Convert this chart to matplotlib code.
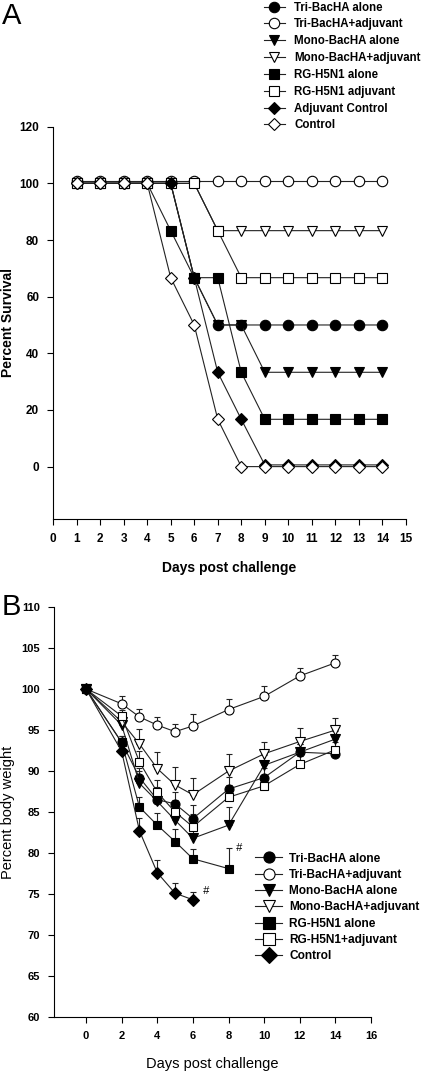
import matplotlib as mpl
mpl.use('Agg')
import matplotlib.pyplot as plt
from matplotlib.lines import Line2D

plt.rcParams['font.family'] = ['Liberation Sans', 'DejaVu Sans']

# ---- panel A: survival ----
days_a = [1, 2, 3, 4, 5, 6, 7, 8, 9, 10, 11, 12, 13, 14]
tri_alone_a = [100, 100, 100, 100, 100, 66.7, 50, 50, 50, 50, 50, 50, 50, 50]
tri_adj_a = [101, 101, 101, 101, 101, 101, 101, 101, 101, 101, 101, 101, 101, 101]
mono_alone_a = [100, 100, 100, 100, 100, 66.7, 50, 50, 33.3, 33.3, 33.3, 33.3, 33.3, 33.3]
mono_adj_a = [100, 100, 100, 100, 100, 100, 83.3, 83.3, 83.3, 83.3, 83.3, 83.3, 83.3, 83.3]
rg_alone_a = [100, 100, 100, 100, 83.3, 66.7, 66.7, 33.3, 16.7, 16.7, 16.7, 16.7, 16.7, 16.7]
rg_adj_a = [100, 100, 100, 100, 100, 100, 83.3, 66.7, 66.7, 66.7, 66.7, 66.7, 66.7, 66.7]
adj_ctrl_a = [100, 100, 100, 100, 100, 66.7, 33.3, 16.7, 0.6, 0.6, 0.6, 0.6, 0.6, 0.6]
ctrl_a = [100, 100, 100, 100, 66.7, 50, 16.7, 0, 0, 0, 0, 0, 0, 0]

labels_a = ['Tri-BacHA alone', 'Tri-BacHA+adjuvant', 'Mono-BacHA alone',
            'Mono-BacHA+adjuvant', 'RG-H5N1 alone', 'RG-H5N1 adjuvant',
            'Adjuvant Control', 'Control']

# ---- panel B: body weight ----
days_b = [0, 2, 3, 4, 5, 6, 8, 10, 12, 14]
days_b_short = [0, 2, 3, 4, 5, 6, 8]
days_b_ctrl = [0, 2, 3, 4, 5, 6]
tri_alone_b = [100, 93.5, 89.2, 86.5, 86.0, 84.2, 87.8, 89.2, 92.3, 92.1]
tri_alone_err = [0, 0.8, 1.2, 1.5, 1.5, 1.6, 1.5, 1.2, 1.0, 0.8]
tri_adj_b = [100, 98.2, 96.6, 95.6, 94.8, 95.5, 97.5, 99.1, 101.6, 103.2]
tri_adj_err = [0, 0.9, 1.0, 1.0, 0.9, 1.5, 1.3, 1.3, 1.0, 0.9]
mono_alone_b = [100, 95.6, 88.5, 86.3, 84.0, 81.8, 83.4, 90.7, 92.3, 93.9]
mono_alone_err = [0, 0.8, 1.5, 1.5, 1.8, 2.0, 2.2, 1.2, 1.0, 1.0]
mono_adj_b = [100, 96.0, 93.3, 90.3, 88.3, 87.1, 90.0, 92.1, 93.6, 95.0]
mono_adj_err = [0, 1.0, 1.8, 2.0, 2.2, 2.1, 2.1, 1.5, 1.7, 1.5]
rg_alone_b = [100, 93.5, 85.6, 83.4, 81.4, 79.3, 78.1]
rg_alone_err = [0, 0.8, 1.2, 1.5, 1.5, 1.2, 2.5]
rg_adj_b = [100, 96.7, 91.1, 87.4, 85.0, 83.2, 86.8, 88.2, 90.8, 92.6]
rg_adj_err = [0, 0.8, 1.3, 1.5, 1.5, 1.6, 1.5, 1.3, 1.0, 1.0]
ctrl_b = [100, 92.4, 82.7, 77.6, 75.1, 74.3]
ctrl_err = [0, 0.8, 1.6, 1.5, 1.2, 0.9]

labels_b = ['Tri-BacHA alone', 'Tri-BacHA+adjuvant', 'Mono-BacHA alone',
            'Mono-BacHA+adjuvant', 'RG-H5N1 alone', 'RG-H5N1+adjuvant', 'Control']

fig = plt.figure(figsize=(4.25, 10.71), dpi=100)

# panel A
ax1 = fig.add_axes([0.125, 0.5154, 0.83, 0.3663])
series_a = [tri_alone_a, tri_adj_a, mono_alone_a, mono_adj_a,
            rg_alone_a, rg_adj_a, adj_ctrl_a, ctrl_a]
styles_a = [('o', 'black'), ('o', 'white'), ('v', 'black'), ('v', 'white'),
            ('s', 'black'), ('s', 'white'), ('D', 'black'), ('D', 'white')]
for vals, lab, (m, fc) in zip(series_a, labels_a, styles_a):
    ms = 7.5 if m in 'ov' else 7
    if m == 'D':
        ms = 6.5
    ax1.plot(days_a, vals, color='#222222', lw=0.8, marker=m, ms=ms,
             mfc=fc, mec='black', mew=0.8, label=lab)

ax1.set_xlim(0, 15)
ax1.set_ylim(-18.5, 120)
ax1.set_xticks(range(0, 16))
ax1.set_yticks([0, 20, 40, 60, 80, 100, 120])
ax1.spines['top'].set_visible(False)
ax1.spines['right'].set_visible(False)
ax1.tick_params(direction='out', length=4, width=0.8, labelsize=8.5, pad=6)
for t in ax1.get_xticklabels() + ax1.get_yticklabels():
    t.set_fontweight('bold')
ax1.set_xlabel('Days post challenge', fontsize=10, fontweight='bold')
ax1.set_ylabel('Percent Survival', fontsize=10, fontweight='bold')
ax1.xaxis.set_label_coords(0.5, -0.106)
ax1.yaxis.set_label_coords(-0.108, 0.5)
fig.legend(*ax1.get_legend_handles_labels(), loc='upper left',
           bbox_to_anchor=(0.62, 0.9985), frameon=False,
           prop={'weight': 'bold', 'size': 8.3}, handlelength=1.9,
           handletextpad=0.75, labelspacing=0.42, borderpad=0, borderaxespad=0)
fig.text(0.005, 0.985, 'A', fontsize=21, va='center', ha='left')

# panel B
ax2 = fig.add_axes([0.127, 0.0504, 0.746, 0.3828])
series_b = [(days_b, tri_alone_b, tri_alone_err), (days_b, tri_adj_b, tri_adj_err),
            (days_b, mono_alone_b, mono_alone_err), (days_b, mono_adj_b, mono_adj_err),
            (days_b_short, rg_alone_b, rg_alone_err), (days_b, rg_adj_b, rg_adj_err),
            (days_b_ctrl, ctrl_b, ctrl_err)]
styles_b = [('o', 'black'), ('o', 'white'), ('v', 'black'), ('v', 'white'),
            ('s', 'black'), ('s', 'white'), ('D', 'black')]
handles_b = []
for (x, y, e), lab, (m, fc) in zip(series_b, labels_b, styles_b):
    ms = 6.5 if m in 'ov' else 6
    ax2.errorbar(x, y, yerr=[[0] * len(e), e], color='#222222', lw=0.8,
                 elinewidth=0.8, capsize=2.5, capthick=0.8, marker=m, ms=ms,
                 mfc=fc, mec='black', mew=0.8)
    handles_b.append(Line2D([], [], color='#222222', lw=0.8, marker=m, ms=8,
                            mfc=fc, mec='black', mew=0.8, label=lab))

ax2.text(8.4, 80.6, '#', fontsize=8, style='italic', ha='left', va='center')
ax2.text(6.55, 75.4, '#', fontsize=8, style='italic', ha='left', va='center')

ax2.set_xlim(-1.8, 16)
ax2.set_ylim(60, 110)
ax2.set_xticks(range(0, 17, 2))
ax2.set_yticks(range(60, 111, 5))
ax2.spines['top'].set_visible(False)
ax2.spines['right'].set_visible(False)
ax2.tick_params(direction='out', length=4, width=0.8, labelsize=8, pad=6)
for t in ax2.get_xticklabels() + ax2.get_yticklabels():
    t.set_fontweight('bold')
ax2.set_xlabel('Days post challenge', fontsize=10.5)
ax2.set_ylabel('Percent body weight', fontsize=10.5)
ax2.xaxis.set_label_coords(0.5, -0.098)
ax2.yaxis.set_label_coords(-0.123, 0.5)
fig.legend(handles=handles_b, loc='upper left', bbox_to_anchor=(0.60, 0.204),
           frameon=False, prop={'weight': 'bold', 'size': 8.6}, handlelength=2.3,
           handletextpad=0.55, labelspacing=0.36, borderpad=0, borderaxespad=0)
fig.text(0.005, 0.433, 'B', fontsize=21, va='center', ha='left')

fig.savefig('out.png', dpi=100)
